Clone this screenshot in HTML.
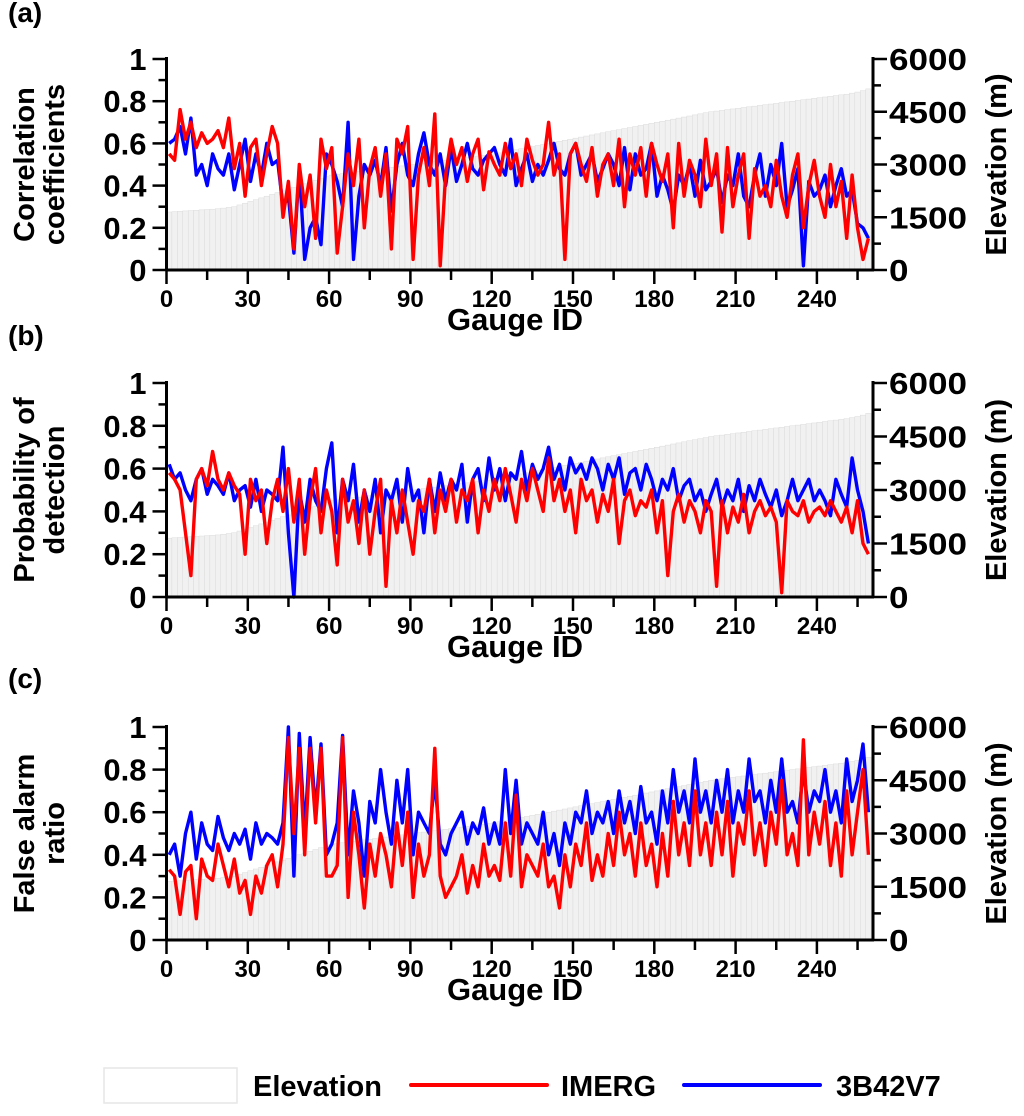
<!DOCTYPE html>
<html><head><meta charset="utf-8"><style>
body{margin:0;background:#fff;}
svg{display:block;font-family:"Liberation Sans",Arial,sans-serif;font-weight:bold;}
</style></head><body>
<svg id="chart" width="1024" height="1116" viewBox="0 0 1024 1116"></svg>
<script>
const gaugeStep = 2;
const elevation = [1650,1660,1670,1680,1690,1700,1710,1720,1730,1740,1760,1780,1800,1850,1900,1950,2000,2050,2100,2150,2200,2250,2300,2350,2400,2450,2500,2550,2600,2650,2700,2720,2740,2760,2780,2800,2820,2840,2860,2880,2900,2920,2940,2960,2980,3000,3020,3040,3060,3080,3100,3120,3140,3160,3180,3200,3220,3240,3260,3280,3300,3330,3360,3390,3420,3450,3480,3510,3540,3570,3600,3630,3660,3690,3720,3750,3780,3810,3840,3870,3900,3930,3960,3990,4020,4050,4080,4110,4140,4170,4200,4230,4260,4290,4320,4350,4380,4410,4440,4470,4500,4520,4540,4560,4580,4600,4620,4640,4660,4680,4700,4720,4740,4760,4780,4800,4820,4840,4860,4880,4900,4920,4940,4960,4980,5000,5030,5060,5100,5150];
const ccImerg = [.55,.52,.76,.62,.70,.58,.65,.60,.62,.66,.58,.72,.48,.60,.35,.58,.62,.40,.55,.68,.60,.25,.42,.10,.50,.30,.45,.15,.62,.48,.58,.08,.30,.55,.40,.62,.20,.48,.58,.35,.55,.10,.62,.55,.68,.05,.45,.58,.40,.74,.02,.45,.62,.50,.58,.42,.55,.62,.38,.56,.50,.45,.60,.48,.55,.40,.62,.52,.45,.50,.70,.45,.55,.05,.55,.60,.50,.42,.58,.35,.50,.55,.40,.62,.30,.55,.45,.58,.35,.60,.50,.42,.55,.20,.60,.35,.52,.45,.30,.62,.40,.55,.18,.58,.30,.45,.55,.15,.48,.35,.40,.30,.52,.35,.25,.45,.55,.20,.40,.52,.35,.25,.50,.30,.42,.15,.45,.20,.05,.15];
const ccTrmm = [.60,.62,.68,.55,.72,.45,.50,.40,.55,.48,.45,.55,.38,.50,.62,.42,.55,.45,.60,.50,.52,.30,.35,.08,.48,.05,.20,.25,.12,.55,.50,.42,.30,.70,.05,.35,.50,.45,.52,.40,.58,.28,.50,.60,.45,.40,.55,.65,.50,.45,.55,.40,.58,.42,.50,.60,.48,.45,.52,.55,.58,.50,.45,.62,.40,.48,.55,.42,.50,.45,.52,.60,.48,.45,.55,.60,.45,.50,.55,.42,.48,.55,.50,.40,.58,.38,.55,.45,.48,.60,.35,.45,.38,.28,.45,.40,.50,.35,.52,.38,.42,.48,.32,.45,.40,.55,.35,.30,.45,.55,.35,.50,.40,.60,.30,.38,.48,.02,.42,.35,.38,.45,.30,.40,.48,.35,.38,.22,.20,.15];
const podImerg = [.58,.55,.50,.30,.10,.55,.60,.52,.68,.55,.50,.58,.52,.48,.20,.55,.45,.50,.25,.45,.55,.40,.60,.35,.55,.20,.45,.60,.30,.50,.40,.15,.55,.35,.45,.25,.50,.20,.40,.55,.05,.45,.30,.50,.35,.20,.45,.40,.55,.30,.50,.40,.55,.35,.50,.45,.55,.30,.50,.40,.55,.45,.60,.48,.35,.55,.45,.60,.50,.40,.65,.45,.55,.40,.50,.30,.55,.45,.50,.35,.48,.40,.55,.25,.45,.50,.38,.45,.42,.50,.30,.45,.10,.40,.48,.35,.45,.40,.30,.45,.40,.05,.45,.30,.42,.35,.48,.30,.40,.45,.38,.42,.35,.02,.45,.40,.38,.45,.35,.40,.42,.38,.45,.40,.35,.42,.30,.45,.25,.20];
const podTrmm = [.62,.55,.58,.50,.45,.55,.60,.48,.55,.52,.48,.58,.45,.50,.52,.42,.55,.40,.50,.48,.45,.70,.30,.00,.50,.35,.55,.45,.40,.60,.72,.30,.55,.45,.62,.35,.50,.40,.55,.30,.50,.45,.55,.35,.60,.45,.50,.30,.55,.40,.58,.45,.55,.50,.62,.35,.55,.60,.45,.65,.50,.60,.45,.58,.55,.68,.50,.62,.55,.60,.70,.55,.62,.50,.65,.58,.62,.55,.65,.60,.50,.62,.55,.65,.48,.58,.60,.50,.62,.55,.45,.55,.50,.60,.45,.52,.55,.45,.50,.40,.48,.55,.42,.50,.45,.55,.40,.52,.45,.55,.48,.42,.50,.38,.45,.55,.45,.50,.55,.45,.50,.45,.38,.55,.48,.42,.65,.50,.40,.25];
const farImerg = [.33,.30,.12,.32,.35,.10,.38,.30,.28,.45,.35,.25,.38,.22,.28,.12,.30,.22,.35,.40,.25,.45,.95,.50,.90,.40,.90,.55,.90,.30,.30,.35,.95,.20,.60,.40,.15,.45,.30,.50,.40,.25,.55,.35,.60,.20,.45,.30,.40,.90,.30,.20,.25,.30,.40,.22,.35,.25,.45,.30,.35,.28,.55,.30,.68,.25,.40,.35,.30,.45,.25,.30,.15,.40,.25,.45,.35,.55,.28,.40,.30,.50,.35,.60,.40,.50,.30,.55,.35,.45,.25,.50,.30,.65,.40,.55,.35,.70,.40,.55,.35,.60,.40,.65,.30,.55,.45,.70,.40,.55,.35,.60,.45,.75,.40,.50,.35,.94,.40,.60,.45,.65,.35,.55,.30,.70,.40,.60,.80,.40];
const farTrmm = [.40,.45,.30,.50,.60,.38,.55,.45,.42,.58,.48,.42,.50,.45,.52,.38,.55,.45,.50,.48,.45,.55,1.0,.30,.97,.50,.95,.60,.92,.40,.45,.55,.96,.40,.70,.55,.30,.65,.55,.80,.60,.45,.75,.55,.80,.40,.60,.55,.50,.75,.45,.40,.50,.55,.60,.45,.55,.50,.62,.45,.55,.45,.80,.50,.75,.45,.55,.50,.45,.60,.40,.50,.35,.55,.45,.60,.55,.70,.50,.60,.55,.65,.50,.70,.55,.65,.50,.72,.55,.60,.45,.70,.55,.80,.60,.70,.55,.85,.60,.70,.55,.75,.60,.80,.55,.70,.60,.85,.65,.70,.55,.75,.60,.85,.60,.65,.55,.80,.60,.70,.65,.80,.60,.70,.55,.85,.65,.75,.92,.60];
const leftTicks = ["0","0.2","0.4","0.6","0.8","1"];
const rightTicks = ["0","1500","3000","4500","6000"];
const xTicks = ["0","30","60","90","120","150","180","210","240"];

const NS="http://www.w3.org/2000/svg";
const svg=document.getElementById('chart');
function mk(tag,attrs,parent){const e=document.createElementNS(NS,tag);for(const k in attrs)e.setAttribute(k,attrs[k]);(parent||svg).appendChild(e);return e;}
const X0=166.5, PXU=2.71, XR=873;
const xs=g=>X0+g*PXU;
const panels=[
 {top:59,bot:270,label:"(a)",ly:22,title:["Correlation","coefficients"],im:ccImerg,tr:ccTrmm,name:"panel-a"},
 {top:383,bot:597,label:"(b)",ly:345,title:["Probability of","detection"],im:podImerg,tr:podTrmm,name:"panel-b"},
 {top:727,bot:940,label:"(c)",ly:688,title:["False alarm","ratio"],im:farImerg,tr:farTrmm,name:"panel-c"}];
panels.forEach(p=>{
 const g=mk('g',{});
 
 
 const H=p.bot-p.top;
 const ys=v=>p.bot-v*H;
 const ye=v=>p.bot-v/6000*H;
 const eg=mk('g',{},g);
 
 
 elevation.forEach((e,i)=>{
  const gx=1+i*gaugeStep;
  const r=mk('rect',{x:xs(gx-1),y:ye(e),width:PXU*gaugeStep,height:p.bot-ye(e),fill:"#f1f1f1",stroke:"#d6d6d6","stroke-width":0.4},eg);
  
  
 });
 [[p.tr,"#0000ff","trmm-line"],[p.im,"#ff0000","imerg-line"]].forEach(([arr,col,nm])=>{
  const d=arr.map((v,i)=>(i?"L":"M")+xs(1+i*gaugeStep).toFixed(1)+","+ys(v).toFixed(1)).join(" ");
  const l=mk('path',{d:d,fill:"none",stroke:col,"stroke-width":3.4,"stroke-linejoin":"round"},g);
  
  
 });
 mk('line',{x1:X0,y1:p.top-2,x2:X0,y2:p.bot+1,stroke:"#000","stroke-width":3},g);
 mk('line',{x1:XR,y1:p.top-2,x2:XR,y2:p.bot+1,stroke:"#000","stroke-width":3},g);
 mk('line',{x1:X0-1,y1:p.bot,x2:XR+1,y2:p.bot,stroke:"#000","stroke-width":3},g);
 for(let k=0;k<=10;k++){const y=p.bot-k/10*H;mk('line',{x1:X0-(k%2?8:14),y1:y,x2:X0,y2:y,stroke:"#000","stroke-width":2.5},g);}
 leftTicks.forEach((t,k)=>{const tx=mk('text',{x:X0-20,y:p.bot-k*0.2*H+11,"text-anchor":"end","font-size":31},g);tx.textContent=t;
  });
 for(let k=0;k<=8;k++){const y=p.bot-k/8*H;mk('line',{x1:XR,y1:y,x2:XR+(k%2?8:14),y2:y,stroke:"#000","stroke-width":2.5},g);}
 rightTicks.forEach((t,k)=>{const tx=mk('text',{x:XR+16,y:p.bot-k*0.25*H+11,"font-size":31,textLength:t.length*19.5,lengthAdjust:"spacingAndGlyphs"},g);tx.textContent=t;
  });
 for(let k=0;k<=17;k++){const x=xs(k*15);mk('line',{x1:x,y1:p.bot,x2:x,y2:p.bot+(k%2?10:14),stroke:"#000","stroke-width":2.5},g);}
 xTicks.forEach((t,k)=>{const tx=mk('text',{x:xs(k*30),y:p.bot+37,"text-anchor":"middle","font-size":24},g);tx.textContent=t;
  });
 const xt=mk('text',{x:515,y:p.bot+60,"text-anchor":"middle","font-size":31},g);xt.textContent="Gauge ID";
 
 const pl=mk('text',{x:8,y:p.ly,"font-size":28},g);pl.textContent=p.label;
 
 const cy=(p.top+p.bot)/2;
 p.title.forEach((t,k)=>{const tx=mk('text',{x:0,y:0,"text-anchor":"middle","font-size":29,transform:`translate(${34+k*30},${cy}) rotate(-90)`},g);tx.textContent=t;
  });
 const rt=mk('text',{x:0,y:0,"text-anchor":"middle","font-size":29,transform:`translate(1006,${cy}) rotate(-90)`},g);rt.textContent="Elevation (m)";
 
});
const lg=mk('g',{});


const lb=mk('rect',{x:104,y:1068,width:133,height:35,fill:"#fff",stroke:"#e6e6e6","stroke-width":1.5},lg);

const t1=mk('text',{x:253,y:1096,"font-size":29},lg);t1.textContent="Elevation";

const l1=mk('line',{x1:411,y1:1085,x2:547,y2:1085,stroke:"#ff0000","stroke-width":4,"stroke-linecap":"round"},lg);

const t2=mk('text',{x:561,y:1096,"font-size":29},lg);t2.textContent="IMERG";

const l2=mk('line',{x1:684,y1:1085,x2:820,y2:1085,stroke:"#0000ff","stroke-width":4,"stroke-linecap":"round"},lg);

const t3=mk('text',{x:836,y:1096,"font-size":29},lg);t3.textContent="3B42V7";

</script>
</body></html>
